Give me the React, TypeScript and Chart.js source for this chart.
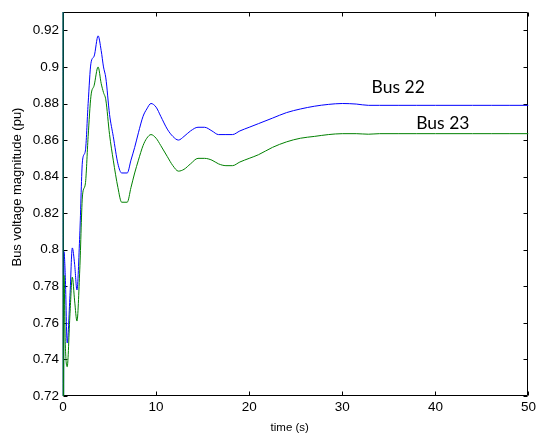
import React, { useEffect, useRef } from "react";
import { Chart, registerables } from "chart.js";

Chart.register(...registerables);

const timeS = [
  0, 0.03, 0.1, 0.25, 0.45, 0.75, 1.0, 1.25, 1.5, 1.8, 2.1, 2.4, 2.7, 3.0, 3.35, 3.77,
  4.1, 4.35, 4.6, 5.0, 5.4, 5.9, 6.3, 6.9, 7.3, 7.7, 8.1, 8.6, 9.0, 9.45, 10.0, 10.5,
  11.2, 11.8, 12.4, 13.0, 13.7, 14.5, 15.2, 16.0, 16.7, 17.5, 18.2, 19.0, 20.0, 21.0,
  22.5, 24.0, 25.5, 27.0, 28.5, 30.0, 31.5, 32.8, 34.0, 36, 38, 40, 42, 44, 46, 48, 50,
];

const bus22 = [
  1.0, 0.62, 0.799, 0.785, 0.749, 0.775, 0.801, 0.792, 0.778, 0.808, 0.849, 0.854, 0.88, 0.902, 0.906, 0.917,
  0.909, 0.9, 0.894, 0.874, 0.862, 0.847, 0.842, 0.842, 0.849, 0.856, 0.864, 0.873, 0.877, 0.88, 0.878, 0.873,
  0.866, 0.862, 0.86, 0.862, 0.865, 0.867, 0.867, 0.865, 0.863, 0.863, 0.863, 0.865, 0.867, 0.869,
  0.872, 0.875, 0.877, 0.8785, 0.8795, 0.88, 0.8797, 0.879, 0.879, 0.879, 0.879, 0.879, 0.879, 0.879, 0.879, 0.879, 0.879,
];

const bus23 = [
  1.0, 0.6, 0.786, 0.748, 0.736, 0.765, 0.785, 0.772, 0.761, 0.789, 0.83, 0.836, 0.862, 0.884, 0.89, 0.9,
  0.891, 0.886, 0.882, 0.863, 0.849, 0.834, 0.826, 0.826, 0.834, 0.842, 0.849, 0.857, 0.861, 0.863, 0.861, 0.857,
  0.851, 0.846, 0.843, 0.844, 0.847, 0.85, 0.85, 0.849, 0.847, 0.846, 0.846, 0.848, 0.85, 0.852,
  0.856, 0.859, 0.861, 0.862, 0.863, 0.8635, 0.8635, 0.8632, 0.8635, 0.8635, 0.8635, 0.8635, 0.8635, 0.8635, 0.8635, 0.8635, 0.8635,
];

const xTicks = [0, 10, 20, 30, 40, 50];
const yTicks = [0.72, 0.74, 0.76, 0.78, 0.8, 0.82, 0.84, 0.86, 0.88, 0.9, 0.92];

const seriesLabels = ["Bus 22", "Bus 23"];
const labelTimes = [36.0, 40.8];
const labelValues = [0.8887, 0.8693];

const xTitle = "time (s)";
const yTitle = "Bus voltage magnitude (pu)";

const ARIAL = "'Liberation Sans', Arial, sans-serif";

const framePlugin = {
  id: "matlabFrame",
  beforeDatasetsDraw(chart: any) {
    const { ctx, chartArea: a, scales } = chart;
    const L = Math.round(a.left) + 0.5;
    const R = Math.round(a.right) - 0.5;
    const T = Math.round(a.top) + 0.5;
    const B = Math.round(a.bottom) - 0.5;
    ctx.save();
    ctx.strokeStyle = "#000";
    ctx.lineWidth = 1;
    ctx.beginPath();
    ctx.rect(L, T, R - L, B - T);
    ctx.stroke();
    const tl = 4;
    ctx.beginPath();
    for (const v of xTicks) {
      const x = Math.round(scales.x.getPixelForValue(v)) + 0.5;
      ctx.moveTo(x, B);
      ctx.lineTo(x, B - tl);
      ctx.moveTo(x, T);
      ctx.lineTo(x, T + tl);
    }
    for (const v of yTicks) {
      const y = Math.round(scales.y.getPixelForValue(v)) + 0.5;
      ctx.moveTo(L, y);
      ctx.lineTo(L + tl, y);
      ctx.moveTo(R, y);
      ctx.lineTo(R - tl, y);
    }
    ctx.stroke();
    ctx.restore();
  },
  afterDraw(chart: any) {
    const { ctx, chartArea: a, scales } = chart;
    ctx.save();
    ctx.fillStyle = "#000";
    ctx.textAlign = "center";
    ctx.textBaseline = "middle";
    ctx.font = `11.5px ${ARIAL}`;
    ctx.fillText(xTitle, (a.left + a.right) / 2 - 6, 428);
    ctx.save();
    ctx.translate(17, (a.top + a.bottom) / 2 - 17);
    ctx.rotate(-Math.PI / 2);
    ctx.font = `13px ${ARIAL}`;
    ctx.fillText(yTitle, 0, 0);
    ctx.restore();
    ctx.font = "17.5px Lato, 'Open Sans', sans-serif";
    seriesLabels.forEach((txt, i) => {
      ctx.fillText(txt, scales.x.getPixelForValue(labelTimes[i]), scales.y.getPixelForValue(labelValues[i]));
    });
    ctx.restore();
  },
};

export default function App() {
  const ref = useRef<HTMLCanvasElement | null>(null);
  useEffect(() => {
    if (!ref.current) return;
    const clip = { left: 2, top: 0, right: 0, bottom: 0 };
    const chart = new Chart(ref.current, {
      type: "line",
      data: {
        datasets: [
          {
            label: "Bus 23",
            data: timeS.map((t, i) => ({ x: t, y: bus23[i] })),
            borderColor: "#008000",
            borderWidth: 1,
            pointRadius: 0,
            cubicInterpolationMode: "monotone",
            clip,
            order: 0,
          },
          {
            label: "Bus 22",
            data: timeS.map((t, i) => ({ x: t, y: bus22[i] })),
            borderColor: "#0000ff",
            borderWidth: 1,
            pointRadius: 0,
            cubicInterpolationMode: "monotone",
            clip,
            order: 1,
          },
        ],
      },
      options: {
        animation: false,
        responsive: false,
        layout: { padding: { top: 6, right: 8, left: 0, bottom: 0 } },
        plugins: { legend: { display: false }, tooltip: { enabled: false } },
        scales: {
          x: {
            type: "linear",
            min: 0,
            max: 50,
            grid: { display: false, drawTicks: false },
            border: { display: false },
            afterBuildTicks: (s: any) => {
              s.ticks = xTicks.map((v) => ({ value: v }));
            },
            afterFit: (s: any) => {
              s.height = 40;
            },
            ticks: {
              padding: 3,
              maxRotation: 0,
              color: "#000",
              font: { family: ARIAL, size: 13.5 },
              callback: (v: any) => String(v),
            },
          },
          y: {
            type: "linear",
            min: 0.72,
            max: 0.93,
            grid: { display: false, drawTicks: false },
            border: { display: false },
            afterBuildTicks: (s: any) => {
              s.ticks = yTicks.map((v) => ({ value: v }));
            },
            afterFit: (s: any) => {
              s.width = 63;
            },
            ticks: {
              padding: 4,
              color: "#000",
              font: { family: ARIAL, size: 13.5 },
              callback: (v: any) => String(+Number(v).toFixed(2)),
            },
          },
        },
      },
      plugins: [framePlugin],
    });
    return () => chart.destroy();
  }, []);
  return (
    <div style={{ position: "absolute", left: 0, top: 0, width: 539, height: 436, background: "#fff" }}>
      <canvas ref={ref} width={539} height={436} />
    </div>
  );
}
